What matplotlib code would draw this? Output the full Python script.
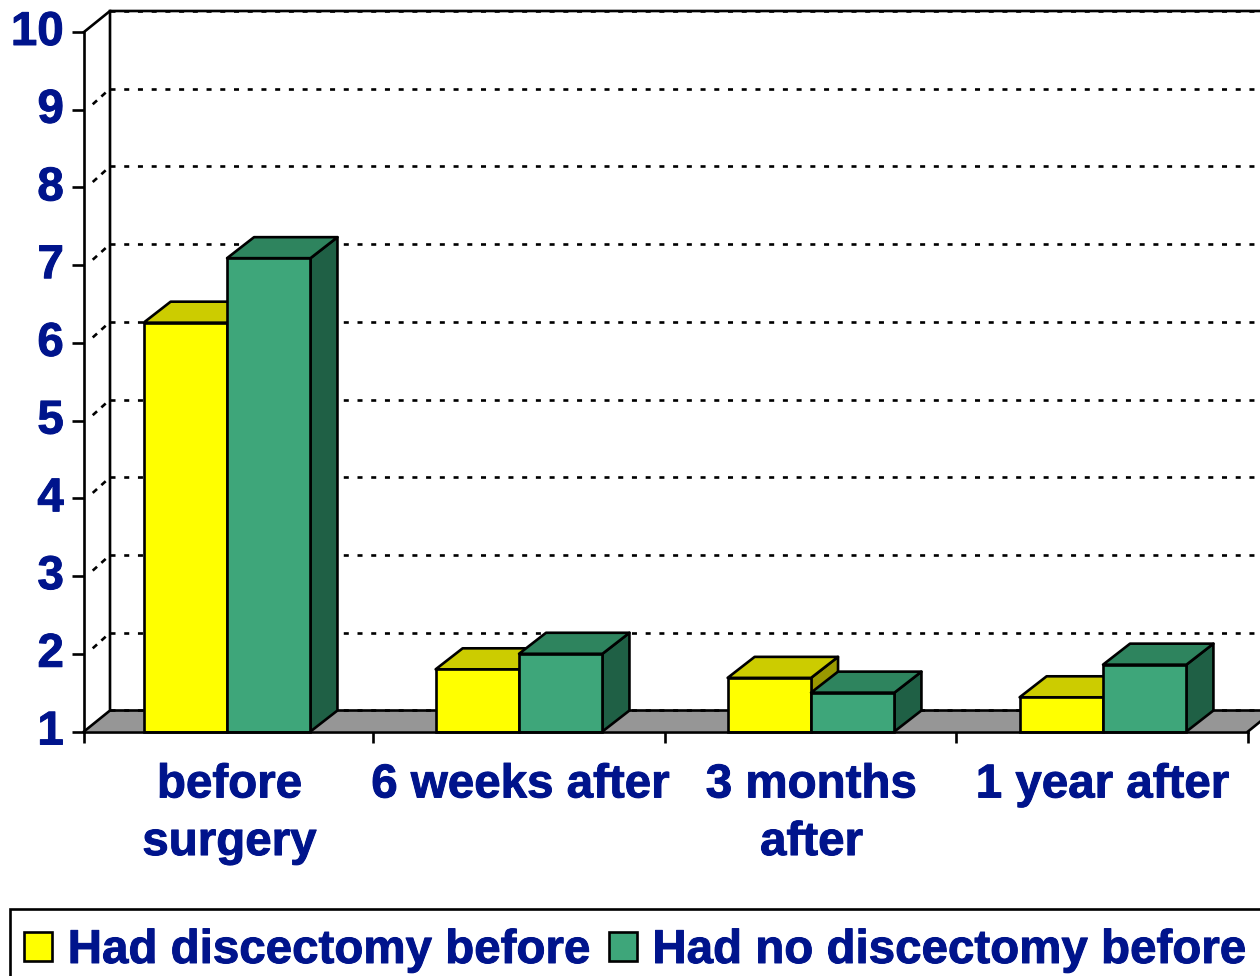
import matplotlib
matplotlib.use('Agg')
import matplotlib.pyplot as plt
import matplotlib.patheffects as pe
from matplotlib.patches import Patch, Rectangle
from matplotlib.transforms import ScaledTranslation

plt.rcParams['font.family'] = ['Liberation Sans', 'DejaVu Sans']

CATEGORIES = ['before\nsurgery', '6 weeks after', '3 months\nafter', '1 year after']
SERIES_NAMES = ['Had discectomy before', 'Had no discectomy before']
HAD_DISCECTOMY = [6.26, 1.80, 1.69, 1.44]
NO_DISCECTOMY = [7.09, 2.00, 1.50, 1.86]
Y_TICKS = [1, 2, 3, 4, 5, 6, 7, 8, 9, 10]
X_TICKS = [0, 0.993, 1.995, 2.997, 4]

TEXT_COLOR = '#00148c'
YELLOW = ['#ffff00', '#cccc00', '#999900']  # front, top, side
GREEN = ['#3ea67a', '#2e845e', '#1f6045']
FLOOR = '#969696'
LW = 1.9
FONT = 34.2
BOLDER = [pe.withStroke(linewidth=0.7, foreground=TEXT_COLOR)]

# depth of the fake 3d box, in data units (26px and 21px on the picture)
DX = 26 / 291
DY = 21 / 77.7
BAR_DX = 27 / 291
BAR_W = 0.2866
GROUP_STEP = 1.0034
DOTS = (0, (1.9, 3.3))

fig = plt.figure(figsize=(12.6, 9.76), dpi=100)
ax = fig.add_axes([84 / 1260, (976 - 731.5) / 976, 1164 / 1260, 699.5 / 976])
ax.set_xlim(0, 4)
ax.set_ylim(1, 10)
ax.patch.set_visible(False)

# floor
ax.fill([0, 4, 4 + DX, DX], [1, 1, 1 + DY, 1 + DY], facecolor=FLOOR, edgecolor='none', clip_on=False, zorder=1)

# back wall and side wall grid
for v in Y_TICKS:
    ax.plot([DX, 4 + DX], [v + DY, v + DY], color='black', lw=LW, ls=DOTS, clip_on=False, zorder=2)
    if v > 1 and v < 10:
        ax.plot([0.03, DX], [v + 0.07, v + DY], color='black', lw=LW, ls=(0, (2.2, 2.2)), clip_on=False, zorder=2)

# solid edges of the box
ax.plot([0, DX, DX], [1, 1 + DY, 10 + DY], color='black', lw=LW, clip_on=False, zorder=2)
ax.plot([0, DX, 4 + DX], [10, 10 + DY, 10 + DY], color='black', lw=LW, clip_on=False, zorder=2)
ax.plot([DX, 4 + DX], [1 + DY, 1 + DY], color='black', lw=LW, clip_on=False, zorder=2)
ax.plot([4, 4 + DX], [1, 1 + DY], color='black', lw=LW, clip_on=False, zorder=2)


def draw_bar(x, value, colors, z):
    front, top, side = colors
    ax.fill([x + BAR_W, x + BAR_W + BAR_DX, x + BAR_W + BAR_DX, x + BAR_W], [1, 1 + DY, value + DY, value],
            facecolor=side, edgecolor='black', lw=LW, joinstyle='round', clip_on=False, zorder=z)
    ax.fill([x, x + BAR_DX, x + BAR_W + BAR_DX, x + BAR_W], [value, value + DY, value + DY, value],
            facecolor=top, edgecolor='black', lw=LW, joinstyle='round', clip_on=False, zorder=z)
    ax.bar(x, value - 1, width=BAR_W, bottom=1, align='edge', facecolor=front, edgecolor='black',
           lw=LW, clip_on=False, zorder=z)


for i in range(len(CATEGORIES)):
    draw_bar(i * GROUP_STEP + 0.205, HAD_DISCECTOMY[i], YELLOW, 3)
    draw_bar(i * GROUP_STEP + 0.205 + BAR_W, NO_DISCECTOMY[i], GREEN, 4)

for name in ['top', 'right']:
    ax.spines[name].set_visible(False)
for name in ['left', 'bottom']:
    ax.spines[name].set_linewidth(LW)
    ax.spines[name].set_zorder(5)

ax.set_yticks(Y_TICKS)
ax.set_yticklabels([str(v) for v in Y_TICKS], fontsize=FONT, fontweight='bold', color=TEXT_COLOR)
ax.tick_params(axis='y', length=9, width=LW, pad=5.5)
up = ScaledTranslation(0, 4 / 100, fig.dpi_scale_trans)
for lab in ax.get_yticklabels():
    lab.set_transform(lab.get_transform() + up)
    lab.set_path_effects(BOLDER)

ax.set_xticks(X_TICKS)
ax.set_xticklabels([])
ax.tick_params(axis='x', which='major', length=8, width=LW)
ax.set_xticks([i + 0.5 for i in range(4)], minor=True)
ax.set_xticklabels(CATEGORIES, minor=True, fontsize=FONT, fontweight='bold', color=TEXT_COLOR, linespacing=1.4)
ax.tick_params(axis='x', which='minor', length=0, pad=23)
for lab in ax.get_xticklabels(minor=True):
    lab.set_path_effects(BOLDER)

# legend box runs off the picture on the right and at the bottom
fig.add_artist(Rectangle((10 / 1260, -30 / 976), 1280 / 1260, (67 + 30) / 976, transform=fig.transFigure,
                         facecolor='white', edgecolor='black', lw=LW))
handles = [Patch(facecolor=YELLOW[0], edgecolor='black', lw=LW, label=SERIES_NAMES[0]),
           Patch(facecolor=GREEN[0], edgecolor='black', lw=LW, label=SERIES_NAMES[1])]
leg = fig.legend(handles=handles, ncol=2, loc='lower left', bbox_to_anchor=(24 / 1260, 3 / 976),
                 prop={'size': FONT, 'weight': 'bold'}, labelcolor=TEXT_COLOR, frameon=False,
                 borderpad=0, borderaxespad=0, handlelength=0.59, handleheight=0.57,
                 handletextpad=0.33, columnspacing=0.38)
for t in leg.get_texts():
    t.set_path_effects(BOLDER)

fig.savefig('out.png', dpi=100)
